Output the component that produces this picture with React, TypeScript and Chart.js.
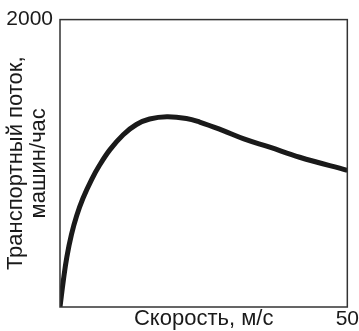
import React, { useEffect, useRef } from "react";
import { Chart, registerables } from "chart.js";

Chart.register(...registerables);

const speeds = [0, 0.6, 1.2, 2, 2.9, 4, 5.5, 6.9, 8.7, 11, 13.3, 15.6, 18.6, 22, 24.3, 28.3, 32, 36.5, 41.7, 50];
const flows = [0, 190, 350, 505, 635, 757, 887, 988, 1095, 1199, 1270, 1308, 1324, 1312, 1287, 1229, 1170, 1112, 1042, 951];
const yTickValues = [2000];
const xTickValues = [50];
const xTitle = "Скорость, м/с";
const yTitle = ["Транспортный поток,", "машин/час"];

const FONT = "'Liberation Sans', Arial, Helvetica, sans-serif";
const INK = "#1a1a1a";

const frame = {
  id: "frame",
  afterDraw(chart: any) {
    const { ctx, chartArea } = chart;
    ctx.save();
    ctx.strokeStyle = "#333";
    ctx.lineWidth = 1.5;
    ctx.strokeRect(chartArea.left, chartArea.top, chartArea.right - chartArea.left, chartArea.bottom - chartArea.top);
    ctx.restore();
  },
};

export default function App() {
  const ref = useRef<HTMLCanvasElement>(null);
  useEffect(() => {
    const chart = new Chart(ref.current!, {
      type: "line",
      data: {
        datasets: [
          {
            data: speeds.map((s, i) => ({ x: s, y: flows[i] })),
            borderColor: INK,
            borderWidth: 5,
            pointRadius: 0,
            tension: 0.4,
            fill: false,
          },
        ],
      },
      options: {
        animation: false,
        responsive: false,
        maintainAspectRatio: false,
        layout: { padding: { top: 19, right: 11, bottom: 0, left: 0 } },
        plugins: { legend: { display: false }, tooltip: { enabled: false } },
        scales: {
          x: {
            type: "linear",
            min: 0,
            max: 50,
            grid: { display: false, drawTicks: false },
            border: { display: false },
            afterBuildTicks: (axis: any) => {
              axis.ticks = xTickValues.map((v) => ({ value: v }));
            },
            afterFit: (axis: any) => {
              axis.height = 24;
            },
            ticks: {
              color: INK,
              font: { family: FONT, size: 21 },
              padding: 0,
              maxRotation: 0,
              callback: (v: any) => String(v),
            },
            title: {
              display: true,
              text: xTitle,
              color: INK,
              font: { family: FONT, size: 22 },
              padding: { top: 0, bottom: -1 },
            },
          },
          y: {
            type: "linear",
            min: 0,
            max: 2000,
            grid: { display: false, drawTicks: false },
            border: { display: false },
            afterBuildTicks: (axis: any) => {
              axis.ticks = yTickValues.map((v) => ({ value: v }));
            },
            afterFit: (axis: any) => {
              axis.width = 60;
            },
            ticks: {
              color: INK,
              font: { family: FONT, size: 21 },
              padding: 7,
              callback: (v: any) => String(v),
            },
            title: {
              display: true,
              text: yTitle,
              color: INK,
              font: { family: FONT, size: 22, lineHeight: 1.05 },
              padding: { top: 4, bottom: 0 },
            },
          },
        },
      },
      plugins: [frame],
    });
    return () => chart.destroy();
  }, []);
  return (
    <div style={{ position: "fixed", left: 0, top: 0, width: 359, height: 331, background: "#fff" }}>
      <canvas ref={ref} width={359} height={331} style={{ width: 359, height: 331, display: "block" }} />
    </div>
  );
}
